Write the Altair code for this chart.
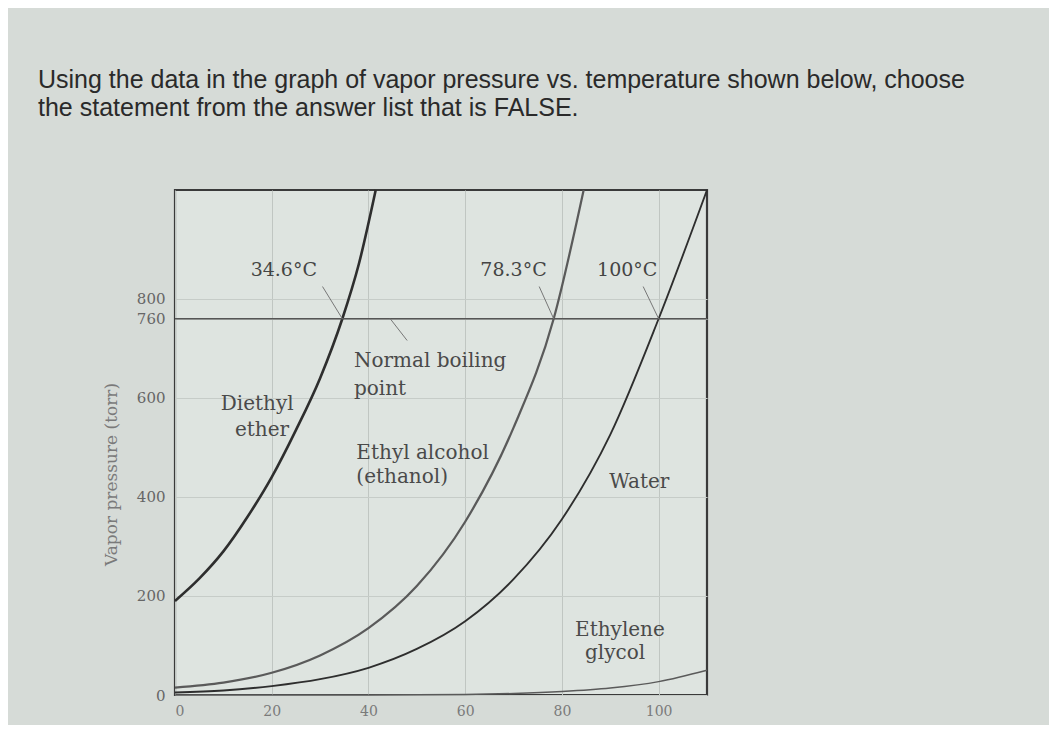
import altair as alt
import pandas as pd

# ---- data ----
ether_t = [0, 5, 10, 15, 20, 25, 30, 34.6, 38, 41.5]
ether_p = [190, 235, 290, 360, 440, 535, 640, 760, 870, 1020]

ethanol_t = [0, 10, 20, 30, 40, 50, 60, 70, 78.3, 84.5]
ethanol_p = [15, 25, 45, 80, 135, 220, 350, 540, 760, 1020]

water_t = [0, 10, 20, 30, 40, 50, 60, 70, 80, 90, 100, 110]
water_p = [5, 9, 18, 32, 55, 93, 149, 234, 355, 526, 760, 1020]

glycol_t = [0, 20, 40, 60, 70, 80, 90, 100, 110]
glycol_p = [0, 0, 0, 1, 3, 7, 14, 27, 50]

x_ticks = [0, 20, 40, 60, 80, 100]
y_ticks = [0, 200, 400, 600, 760, 800]

boiling_labels = ["34.6°C", "78.3°C", "100°C"]
boiling_label_x = [22.5, 70, 93.5]
boiling_label_y = [858, 858, 858]
leader_x = [30.5, 75.3, 96.8, 44.5]
leader_y = [825, 825, 825, 760]
leader_x2 = [34.6, 78.3, 100, 48]
leader_y2 = [760, 760, 760, 716]

name_text = ["Diethyl", "ether", "Normal boiling", "point", "Ethyl alcohol", "(ethanol)",
             "Water", "Ethylene", "glycol"]
name_x = [17, 18, 37, 37, 37.5, 37.5, 96, 92, 91]
name_y = [587, 536, 674, 619, 488, 440, 430, 132, 85]
name_align = ["center", "center", "left", "left", "left", "left", "center", "center", "center"]

question = ["Using the data in the graph of vapor pressure vs. temperature shown below, choose",
            "the statement from the answer list that is FALSE."]

# ---- tables ----
curves = pd.concat([
    pd.DataFrame({"t": ether_t, "p": ether_p, "s": "ether", "o": range(len(ether_t))}),
    pd.DataFrame({"t": ethanol_t, "p": ethanol_p, "s": "ethanol", "o": range(len(ethanol_t))}),
    pd.DataFrame({"t": water_t, "p": water_p, "s": "water", "o": range(len(water_t))}),
    pd.DataFrame({"t": glycol_t, "p": glycol_p, "s": "glycol", "o": range(len(glycol_t))}),
])
bl = pd.DataFrame({"label": boiling_labels, "x": boiling_label_x, "y": boiling_label_y})
ld = pd.DataFrame({"x": leader_x, "y": leader_y, "x2": leader_x2, "y2": leader_y2})
names = pd.DataFrame({"text": name_text, "x": name_x, "y": name_y, "align": name_align})
nbp = pd.DataFrame({"p": [760]})

SERIF = "DejaVu Serif"
xs = alt.Scale(domain=[0, 110], nice=False, zero=False)
ys = alt.Scale(domain=[0, 1020], nice=False)

x_enc = alt.X("t:Q", scale=xs, axis=alt.Axis(
    values=x_ticks, title=None, grid=True, gridColor="#c0c6c2", gridWidth=1,
    ticks=False, domain=False, labelFont=SERIF, labelFontSize=14, labelColor="#7a7a7a",
    labelPadding=9))
y_enc = alt.Y("p:Q", scale=ys, axis=alt.Axis(
    values=y_ticks, title="Vapor pressure (torr)", grid=True, gridColor="#c6ccc8",
    gridWidth=1, ticks=False, domain=False, labelFont=SERIF, labelFontSize=15,
    labelColor="#666", labelPadding=10, titleFont=SERIF, titleFontSize=17,
    titleFontWeight="normal", titleColor="#7a7a7a", titlePadding=16, labelOverlap=False,
    titleY=284))

lines = alt.Chart(curves).mark_line(interpolate="monotone").encode(
    x=x_enc, y=y_enc, order="o:Q",
    detail="s:N",
    color=alt.Color("s:N", legend=None, scale=alt.Scale(
        domain=["ether", "ethanol", "water", "glycol"],
        range=["#2e2e2e", "#5a5a5a", "#2e2e2e", "#5a5a5a"])),
    strokeWidth=alt.StrokeWidth("s:N", legend=None, scale=alt.Scale(
        domain=["ether", "ethanol", "water", "glycol"], range=[2.6, 1.5, 2.6, 1.5])),
)

nbp_rule = alt.Chart(nbp).mark_rule(color="#555", strokeWidth=1.6).encode(
    y=alt.Y("p:Q", scale=ys))

leaders = alt.Chart(ld).mark_rule(color="#777", strokeWidth=1).encode(
    x=alt.X("x:Q", scale=xs), y=alt.Y("y:Q", scale=ys),
    x2="x2:Q", y2="y2:Q")

bl_text = alt.Chart(bl).mark_text(font=SERIF, fontSize=19, color="#444").encode(
    x=alt.X("x:Q", scale=xs), y=alt.Y("y:Q", scale=ys), text="label:N")

def name_layer(al):
    return alt.Chart(names[names["align"] == al]).mark_text(
        font=SERIF, fontSize=20, color="#4a4a4a", align=al).encode(
        x=alt.X("x:Q", scale=xs), y=alt.Y("y:Q", scale=ys), text="text:N")

chart = alt.layer(
    lines, nbp_rule, leaders, bl_text, name_layer("center"), name_layer("left")
).properties(
    width=532, height=505,
    background="#d6dbd7",
    padding={"left": 167, "top": 182, "right": 342, "bottom": 30},
    autosize=alt.AutoSizeParams(type="none"),
    title=alt.TitleParams(
        text=question, anchor="start", frame="group", dx=-137, offset=64,
        font="Liberation Sans", fontSize=25, fontWeight="normal", color="#2a2a2a",
        lineHeight=28),
).configure_view(
    fill="#dee4e0", stroke="#3a3a3a", strokeWidth=2.2
)

chart.save("out.html", embed_options={"renderer": "svg", "actions": False})
